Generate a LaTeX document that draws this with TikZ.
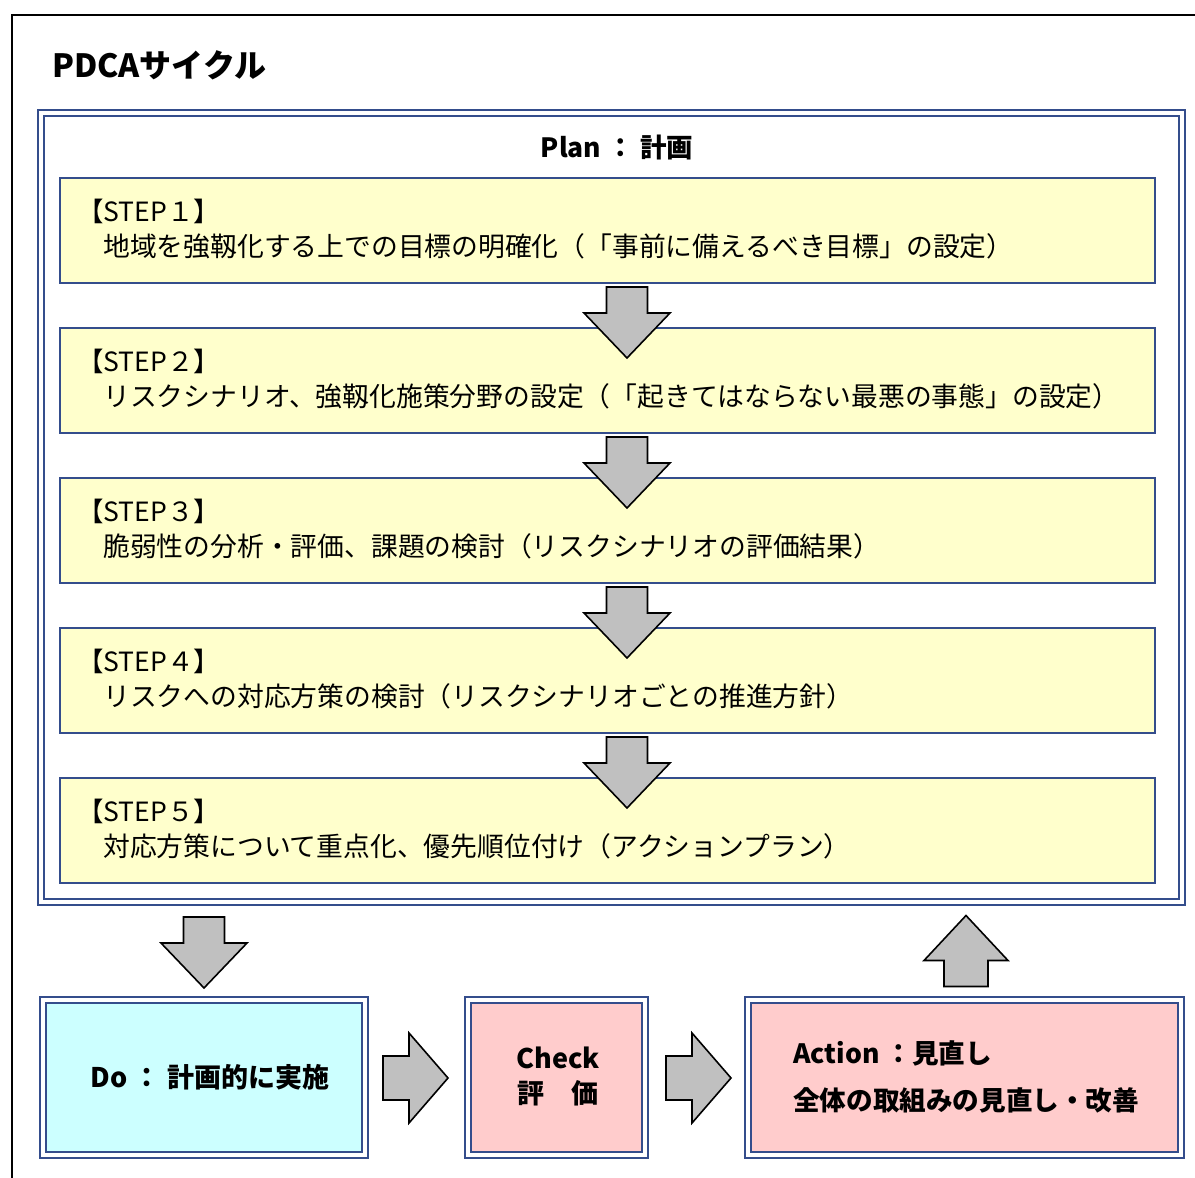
\documentclass[tikz,border=0pt]{standalone}
\usepackage{fontspec}
\setmainfont{Noto Sans CJK JP}
\usetikzlibrary{calc}
\definecolor{bordblue}{RGB}{52,77,140}
\definecolor{stepyellow}{RGB}{255,255,204}
\definecolor{docyan}{RGB}{204,255,255}
\definecolor{ckpink}{RGB}{255,204,204}
\definecolor{arrowgray}{RGB}{192,192,192}
\tikzset{
  dbl/.style={draw=bordblue, line width=2pt, double=white, double distance=4pt, inner sep=0pt, outer sep=0pt},
  stepbox/.style={draw=bordblue, line width=1.8pt, fill=stepyellow, inner sep=0pt, outer sep=0pt, minimum width=1095, minimum height=105},
  arrowshape/.style={draw=black, line width=1.6pt, fill=arrowgray, line join=miter},
  steplabel/.style={anchor=west, inner sep=0pt, font=\fontsize{26.5}{30}\selectfont},
  steptext/.style={anchor=west, inner sep=0pt, font=\fontsize{26.8}{30}\selectfont},
  boldtxt/.style={inner sep=0pt, font=\bfseries\fontsize{27}{35}\selectfont},
  downarr/.pic={\draw[arrowshape] (-20.5,0) -- (20.5,0) -- (20.5,26) -- (43,26) -- (0,71) -- (-43,26) -- (-20.5,26) -- cycle;},
  uparr/.pic={\draw[arrowshape] (-22,0) -- (22,0) -- (22,-26) -- (42,-26) -- (0,-71) -- (-42,-26) -- (-22,-26) -- cycle;},
  rightarr/.pic={\draw[arrowshape] (0,-22) -- (26,-22) -- (26,-45) -- (65,0) -- (26,45) -- (26,22) -- (0,22) -- cycle;}
}
\begin{document}
\begin{tikzpicture}[x=1pt,y=-1pt]
\path[use as bounding box] (0,0) rectangle (1195,1178);
\clip (0,0) rectangle (1195,1178);
\fill[white] (0,0) rectangle (1195,1178);
\draw[black, line width=2.5pt] (12,15) rectangle (1230,1220);

\node[anchor=west, inner sep=0pt, font=\bfseries\fontsize{32}{36}\selectfont] (title) at (52,65) {PDCAサイクル};

\node[dbl, fill=white, minimum width=1141, minimum height=789] (plan) at (611,507) {};
\node[inner sep=0pt, font=\bfseries\fontsize{26.5}{30}\selectfont] (plantitle) at (617,147) {Plan ： 計画};

\node[stepbox] (s1) at (607.5,230.5) {};
\node[stepbox] (s2) at (607.5,380.5) {};
\node[stepbox] (s3) at (607.5,530.5) {};
\node[stepbox] (s4) at (607.5,680.5) {};
\node[stepbox] (s5) at (607.5,830.5) {};

\node[steplabel] (l1) at ($(s1.north west)+(17,33)$) {【STEP１】};
\node[steptext] (t1) at ($(s1.north west)+(43,68)$) {地域を強靱化する上での目標の明確化（「事前に備えるべき目標」の設定）};
\node[steplabel] (l2) at ($(s2.north west)+(17,33)$) {【STEP２】};
\node[steptext] (t2) at ($(s2.north west)+(43,68)$) {リスクシナリオ、強靱化施策分野の設定（「起きてはならない最悪の事態」の設定）};
\node[steplabel] (l3) at ($(s3.north west)+(17,33)$) {【STEP３】};
\node[steptext] (t3) at ($(s3.north west)+(43,68)$) {脆弱性の分析・評価、課題の検討（リスクシナリオの評価結果）};
\node[steplabel] (l4) at ($(s4.north west)+(17,33)$) {【STEP４】};
\node[steptext] (t4) at ($(s4.north west)+(43,68)$) {リスクへの対応方策の検討（リスクシナリオごとの推進方針）};
\node[steplabel] (l5) at ($(s5.north west)+(17,33)$) {【STEP５】};
\node[steptext] (t5) at ($(s5.north west)+(43,68)$) {対応方策について重点化、優先順位付け（アクションプラン）};

\pic at ($(s1.south)+(19.5,4)$) {downarr};
\pic at ($(s2.south)+(19.5,4)$) {downarr};
\pic at ($(s3.south)+(19.5,4)$) {downarr};
\pic at ($(s4.south)+(19.5,4)$) {downarr};

\node[dbl, fill=docyan, minimum width=321.5, minimum height=155] (do) at (203.75,1077) {};
\node[dbl, fill=ckpink, minimum width=177.5, minimum height=155] (check) at (556.25,1077) {};
\node[dbl, fill=ckpink, minimum width=433, minimum height=155] (action) at (964.5,1077) {};

\node[boldtxt] (dotext) at (210,1077) {Do ： 計画的に実施};
\node[boldtxt, align=center] (checktext) at (558,1076) {Check\\評　価};
\node[boldtxt, align=left, anchor=west, font=\bfseries\fontsize{26.6}{47}\selectfont] (actiontext) at (793,1077) {Action ：見直し\\全体の取組みの見直し・改善};

\pic at ($(plan.south -| do.north)+(0.25,15.5)$) {downarr};
\pic at ($(do.east)+(18.5,1)$) {rightarr};
\pic at ($(check.east)+(21,1)$) {rightarr};
\pic at ($(action.north)+(1.5,-13)$) {uparr};
\end{tikzpicture}
\end{document}
